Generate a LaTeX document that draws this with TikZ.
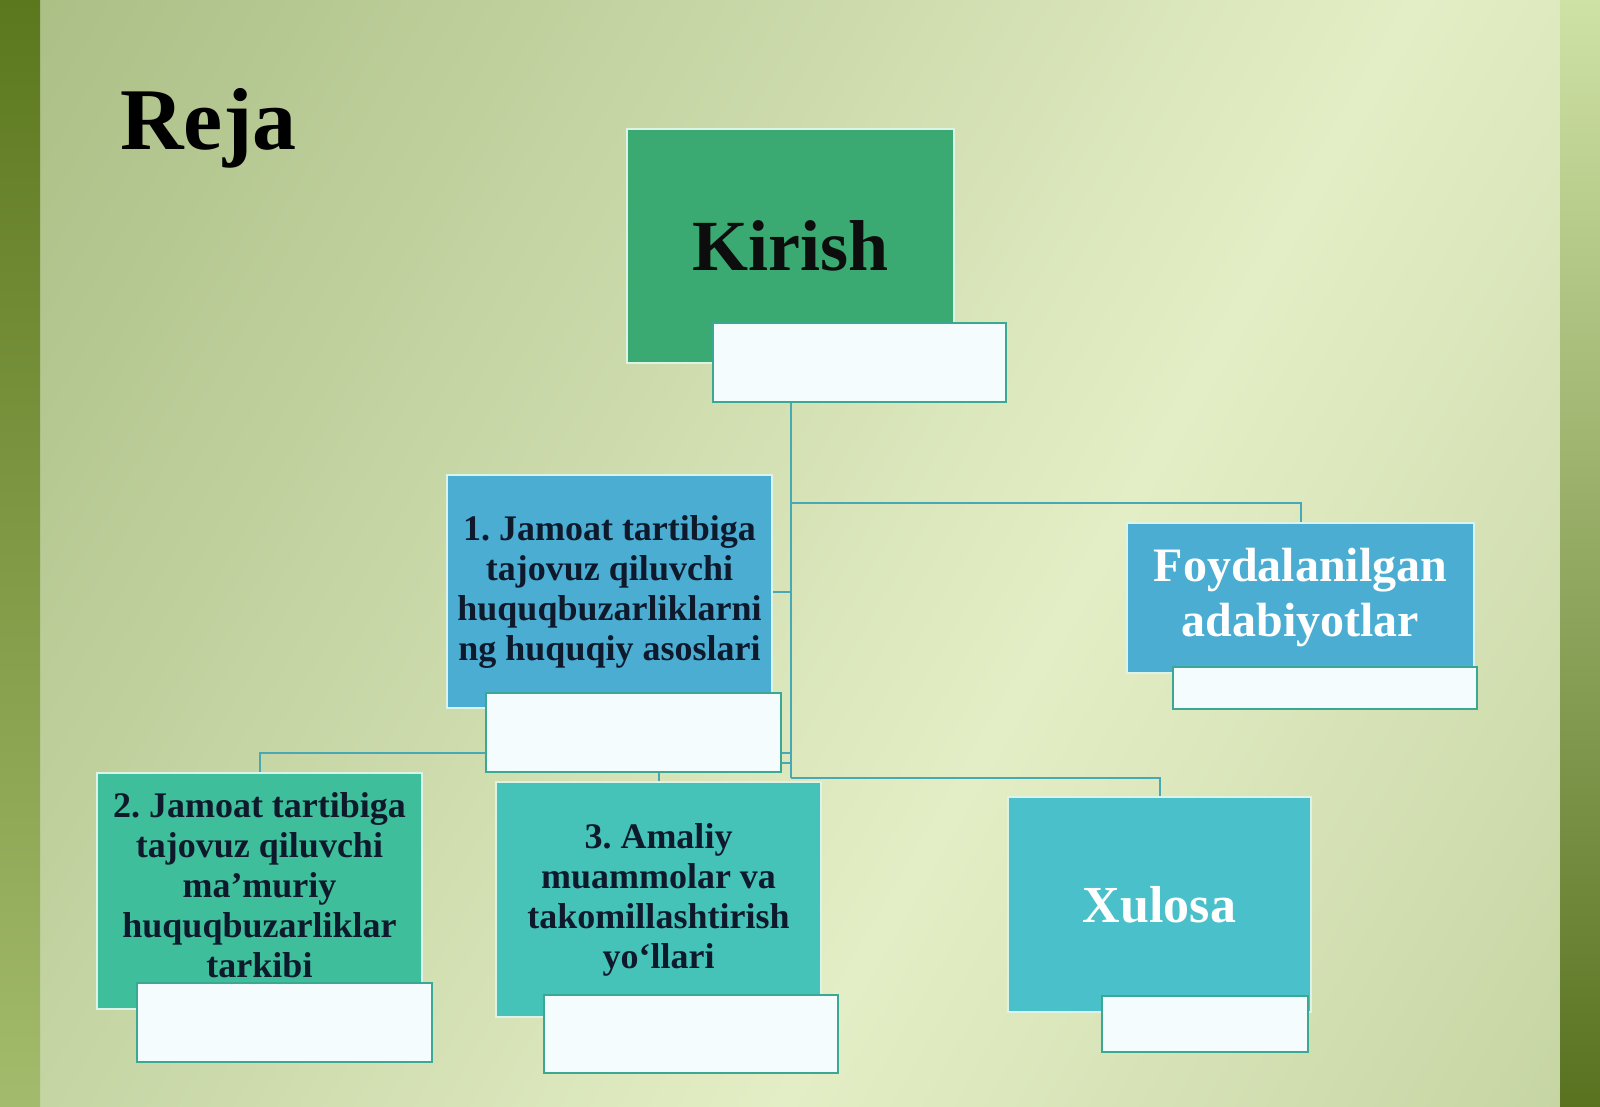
\documentclass[tikz,border=0pt]{standalone}
\usepackage{fontspec}
\setmainfont{Liberation Serif}
\frenchspacing
\definecolor{bgA}{HTML}{A6BB80}
\definecolor{bgB}{HTML}{E4EEC6}
\definecolor{bgC}{HTML}{ABBE84}
\definecolor{bandLtop}{HTML}{5C781E}
\definecolor{bandLbot}{HTML}{A3BB6C}
\definecolor{bandRtop}{HTML}{CFE2A6}
\definecolor{bandRmid}{HTML}{A6BA78}
\definecolor{bandRbot}{HTML}{587220}
\definecolor{cKirish}{HTML}{3BA972}
\definecolor{cBlue}{HTML}{4BADD2}
\definecolor{cTealG}{HTML}{3EBE9B}
\definecolor{cTeal}{HTML}{46C3B9}
\definecolor{cCyan}{HTML}{4AC0CA}
\definecolor{cLine}{HTML}{48A8B4}
\definecolor{cWEdge}{HTML}{3AA892}
\definecolor{cEdge}{HTML}{DDF3E8}
\definecolor{cText}{HTML}{0E1A2C}
\pgfdeclarelayer{back}
\pgfdeclarelayer{lines}
\pgfsetlayers{back,lines,main}
\begin{document}
\begin{tikzpicture}[x=0.5pt,y=-0.5pt,
  cbox/.style={draw=cEdge, line width=1.1pt, inner sep=0pt, align=center},
  wbox/.style={draw=cWEdge, line width=0.9pt, fill=white!96!cyan, inner sep=0pt},
  conn/.style={draw=cLine, line width=1pt},
  body/.style={font=\fontsize{18}{20}\selectfont\bfseries, text=cText}]
\useasboundingbox (0,0) rectangle (1600,1107);
% background
\begin{pgfonlayer}{back}
\begin{scope}
\clip (0,0) rectangle (1600,1107);
\begin{scope}[transform canvas={rotate around={60:(1100,553)}}]
\shade[top color=bgA, bottom color=bgC, middle color=bgB] (-400,-747) rectangle (2600,1853);
\end{scope}
\end{scope}
\shade[top color=bandLtop, bottom color=bandLbot] (0,0) rectangle (40,1107);
\shade[top color=bandRtop, middle color=bandRmid, bottom color=bandRbot] (1560,0) rectangle (1600,1107);
\end{pgfonlayer}
% title
\node[anchor=base west, inner sep=0pt, font=\fontsize{44}{48}\selectfont\bfseries, text=black] (reja) at (120,150) {Reja};
% colored boxes
\node[cbox, fill=cKirish, minimum width=163.5pt, minimum height=117pt, font=\fontsize{36}{40}\selectfont\bfseries, text=black!95] (kirish) at (790.5,246) {Kirish};
\node[wbox, minimum width=146.5pt, minimum height=39.5pt] (kw) at (859.5,362.5) {};
\node[cbox, fill=cBlue, minimum width=162.5pt, minimum height=116.5pt, body] (box1) at (609.5,591.5) {1. Jamoat tartibiga\\tajovuz qiluvchi\\huquqbuzarliklarni\\ng huquqiy asoslari};
\node[cbox, fill=cBlue, minimum width=173.5pt, minimum height=75pt, font=\fontsize{24}{27.5}\selectfont\bfseries, text=white] (foyd) at (1300.5,598) {Foydalanilgan\\adabiyotlar};
\node[cbox, fill=cTealG, minimum width=162.5pt, minimum height=118pt, body] (box2) at (259.5,891) {2. Jamoat tartibiga\\tajovuz qiluvchi\\ma’muriy\\huquqbuzarliklar\\tarkibi\rule[-6pt]{0pt}{6pt}};
\node[cbox, fill=cTeal, minimum width=162.5pt, minimum height=117.5pt, body] (box3) at (658.5,899.5) {3. Amaliy\\muammolar va\\takomillashtirish\\yo‘llari};
\node[cbox, fill=cCyan, minimum width=151.5pt, minimum height=107.5pt, font=\fontsize{26}{30}\selectfont\bfseries, text=white] (xul) at (1159.5,904.5) {Xulosa};
% white tabs
\node[wbox, minimum width=147.5pt, minimum height=39.5pt] (w1) at (633.5,732.5) {};
\node[wbox, minimum width=152pt, minimum height=21pt] (wf) at (1325,688) {};
\node[wbox, minimum width=147.5pt, minimum height=39.5pt] (w2) at (284.5,1022.5) {};
\node[wbox, minimum width=147pt, minimum height=39pt] (w3) at (691,1034) {};
\node[wbox, minimum width=103pt, minimum height=28pt] (wx) at (1205,1024) {};
% connectors
\coordinate (jtop) at (kirish.south |- kw.south);
\coordinate (jF) at (790.5,503);
\coordinate (j2) at (790.5,753);
\coordinate (j3) at (790.5,763);
\coordinate (jX) at (790.5,778);
\begin{pgfonlayer}{lines}
\draw[conn] (jtop) -- (jX);
\draw[conn] (jF) -| (foyd.north);
\draw[conn] (box1.east) -- (box1.east -| jtop);
\draw[conn] (j2) -| (box2.north);
\draw[conn] (j3) -| (box3.north);
\draw[conn] (jX) -| (xul.north);
\end{pgfonlayer}
\end{tikzpicture}
\end{document}
